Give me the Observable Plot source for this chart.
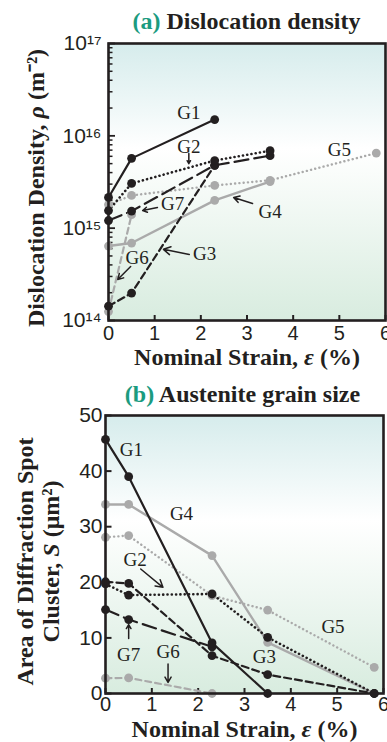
<!DOCTYPE html>
<html><head><meta charset="utf-8">
<script src="https://cdn.jsdelivr.net/npm/d3@7"></script>
<script src="https://cdn.jsdelivr.net/npm/@observablehq/plot@0.6"></script>
<style>
body{margin:0;background:#fff;}
#wrap{position:relative;width:387px;height:742px;overflow:hidden;}
.title{position:absolute;left:0;width:387px;text-align:center;font-family:"Liberation Serif",serif;font-size:24px;font-weight:bold;color:#231f20;white-space:nowrap;line-height:1;}
.title .tag{color:#1b9b7f;}
#wrap svg{position:absolute;left:0;}
</style></head><body><div id="wrap"></div><script>
// ---------- data ----------
const groups = ["G1","G2","G3","G4","G5","G6","G7"];

// Panel (a): dislocation density rho (m^-2) vs nominal strain (%)
const strainA_G1 = [0, 0.5, 2.3];
const rhoA_G1    = [2.15e15, 5.7e15, 1.5e16];
const strainA_G2 = [0, 0.5, 2.3, 3.5];
const rhoA_G2    = [1.55e15, 3.05e15, 5.4e15, 6.9e15];
const strainA_G3 = [0, 0.5, 2.3];
const rhoA_G3    = [1.43e14, 1.98e14, 4.8e15];
const strainA_G4 = [0, 0.5, 2.3, 3.5];
const rhoA_G4    = [6.4e14, 6.9e14, 2.0e15, 3.2e15];
const strainA_G5 = [0, 0.5, 2.3, 3.5, 5.8];
const rhoA_G5    = [1.8e15, 2.26e15, 2.9e15, 3.3e15, 6.5e15];
const strainA_G6 = [0, 0.5];
const rhoA_G6    = [1.25e14, 1.4e15];
const strainA_G7 = [0, 0.5, 2.3, 3.5];
const rhoA_G7    = [1.21e15, 1.53e15, 4.8e15, 6.1e15];

// Panel (b): area of diffraction spot cluster S (um^2) vs nominal strain (%)
const strainB_G1 = [0, 0.5, 2.3, 3.5];
const areaB_G1   = [45.7, 39, 9.1, 0];
const strainB_G2 = [0, 0.5, 2.3, 3.5, 5.8];
const areaB_G2   = [19.7, 17.7, 17.9, 10.1, 0];
const strainB_G3 = [0, 0.5, 2.3, 3.5, 5.8];
const areaB_G3   = [20.1, 19.8, 6.8, 3.4, 0];
const strainB_G4 = [0, 0.5, 2.3, 3.5, 5.8];
const areaB_G4   = [34, 34, 24.8, 9.2, 0];
const strainB_G5 = [0, 0.5, 2.3, 3.5, 5.8];
const areaB_G5   = [28.1, 28.4, 17.6, 15, 4.7];
const strainB_G6 = [0, 0.5, 2.3];
const areaB_G6   = [2.75, 2.8, 0];
const strainB_G7 = [0, 0.5, 2.3];
const areaB_G7   = [15.1, 13.3, 8.4];

// ticks
const xTicks = [0, 1, 2, 3, 4, 5, 6];
const yTicksA = [1e14, 1e15, 1e16, 1e17];
const yTickLabelsA = ["10¹⁴", "10¹⁵", "10¹⁶", "10¹⁷"];
const yTicksB = [0, 10, 20, 30, 40, 50];

// annotation labels (data coordinates)
const labA_text = ["G1", "G2", "G3", "G4", "G5", "G6", "G7"];
const labA_x    = [1.74, 1.74, 2.08, 3.5, 5.0, 0.62, 1.39];
const labA_y    = [1.79e16, 7.66e15, 5.2e14, 1.51e15, 7.1e15, 4.8e14, 1.85e15];
const arrA_x1 = [1.74, 1.06, 3.12, 0.48, 1.75];
const arrA_y1 = [6.44e15, 1.67e15, 1.85e15, 3.85e14, 5.2e14];
const arrA_x2 = [1.74, 0.74, 2.71, 0.2, 1.19];
const arrA_y2 = [5.0e15, 1.55e15, 2.15e15, 2.78e14, 5.9e14];

const labB_text = ["G1", "G2", "G3", "G4", "G5", "G6", "G7"];
const labB_x    = [0.56, 0.64, 3.43, 1.64, 4.91, 1.35, 0.5];
const labB_y    = [43.9, 24.1, 6.5, 32.3, 11.9, 7.4, 7.0];
const arrB_x1 = [0.76, 0.5, 1.35];
const arrB_y1 = [22.4, 9.9, 5.3];
const arrB_x2 = [1.24, 0.5, 1.35];
const arrB_y2 = [19.1, 12.4, 2.0];

// ---------- build tables ----------
const dataA = {G1:[strainA_G1,rhoA_G1],G2:[strainA_G2,rhoA_G2],G3:[strainA_G3,rhoA_G3],G4:[strainA_G4,rhoA_G4],G5:[strainA_G5,rhoA_G5],G6:[strainA_G6,rhoA_G6],G7:[strainA_G7,rhoA_G7]};
const dataB = {G1:[strainB_G1,areaB_G1],G2:[strainB_G2,areaB_G2],G3:[strainB_G3,areaB_G3],G4:[strainB_G4,areaB_G4],G5:[strainB_G5,areaB_G5],G6:[strainB_G6,areaB_G6],G7:[strainB_G7,areaB_G7]};
const toRows = (pair) => pair[0].map((x, i) => ({x, y: pair[1][i]}));

const INK = "#231f20", GRAY = "#aaaaaa";
const styles = {
  G1: {stroke: INK, strokeWidth: 2.2, strokeDasharray: null},
  G2: {stroke: INK, strokeWidth: 2.6, strokeDasharray: "0.1,4.2", strokeLinecap: "round"},
  G3: {stroke: INK, strokeWidth: 2.2, strokeDasharray: "7,4"},
  G4: {stroke: GRAY, strokeWidth: 2.4, strokeDasharray: null},
  G5: {stroke: GRAY, strokeWidth: 2.4, strokeDasharray: "0.1,4.2", strokeLinecap: "round"},
  G6: {stroke: GRAY, strokeWidth: 2.2, strokeDasharray: "6,4"},
  G7: {stroke: INK, strokeWidth: 2.2, strokeDasharray: "14,6"}
};
const drawOrder = ["G5", "G6", "G4", "G3", "G7", "G2", "G1"];

function seriesMarks(data) {
  const m = [];
  for (const g of drawOrder) {
    const rows = toRows(data[g]);
    m.push(Plot.line(rows, {x: "x", y: "y", ...styles[g]}));
  }
  for (const g of drawOrder) {
    const rows = toRows(data[g]);
    m.push(Plot.dot(rows, {x: "x", y: "y", r: 4.4, fill: styles[g].stroke, stroke: "none"}));
  }
  return m;
}

function gradient(svg, id) {
  const defs = d3.select(svg).insert("defs", ":first-child");
  const lg = defs.append("linearGradient").attr("id", id).attr("x1", 0).attr("y1", 0).attr("x2", 0).attr("y2", 1);
  lg.append("stop").attr("offset", "0").attr("stop-color", "#d6ecec");
  lg.append("stop").attr("offset", "0.38").attr("stop-color", "#ffffff");
  lg.append("stop").attr("offset", "1").attr("stop-color", "#d8ecdf");
}

function styleMath(svg) {
  const NS = "http://www.w3.org/2000/svg";
  d3.select(svg).selectAll("text, tspan").each(function () {
    if (this.childElementCount) return;
    const s = this.textContent;
    const parts = s.split(/(ε|ρ|(?<=, )S(?= \())/);
    if (parts.length < 2) return;
    this.textContent = "";
    for (const p of parts) {
      if (!p) continue;
      const t = document.createElementNS(NS, "tspan");
      t.textContent = p;
      if (/^(ε|ρ|S)$/.test(p)) t.setAttribute("font-style", "italic");
      this.appendChild(t);
    }
  });
}

const serif = "Liberation Serif, Times New Roman, serif";
const sans = "Liberation Sans, Arial, sans-serif";
const labelStyle = {fontFamily: serif, fontSize: 19, fill: INK};
const axisTitle = {fontFamily: serif, fontWeight: "bold", fontSize: 24, fill: INK, textAnchor: "middle", lineAnchor: "middle"};

// ---------- panel (a) ----------
const minorA = [];
for (const e of [14, 15, 16]) for (let k = 2; k <= 9; k++) minorA.push(k * Math.pow(10, e));

const svgA = Plot.plot({
  width: 387, height: 365,
  marginLeft: 108, marginRight: 2, marginTop: 43, marginBottom: 45,
  style: {background: "transparent", overflow: "visible", color: INK},
  x: {domain: [0, 6]},
  y: {type: "log", domain: [1e14, 1e17]},
  marks: [
    Plot.frame({fill: "url(#gradA)", stroke: "none"}),
    Plot.axisY(minorA, {tickSize: 4.5, insetLeft: 4.5, fill: "none", stroke: INK, strokeWidth: 1.5}),
    Plot.axisY(yTicksA, {tickSize: 7, insetLeft: 7, fill: "none", stroke: INK, strokeWidth: 1.8}),
    Plot.axisX(xTicks, {tickSize: 5, insetBottom: 5, fill: "none", stroke: INK, strokeWidth: 2}),
    Plot.axisY(yTicksA, {tickSize: 0, tickPadding: 7, tickFormat: (d) => yTickLabelsA[yTicksA.indexOf(d)], fontSize: 21, fontFamily: sans, label: null}),
    Plot.axisX(xTicks, {tickSize: 0, tickPadding: 5, fontSize: 20, fontFamily: sans, label: null}),
    ...seriesMarks(dataA),
    Plot.text(labA_text, {x: (d, i) => labA_x[i], y: (d, i) => labA_y[i], text: d => d, ...labelStyle}),
    Plot.arrow(arrA_x1, {x1: (d, i) => arrA_x1[i], y1: (d, i) => arrA_y1[i], x2: (d, i) => arrA_x2[i], y2: (d, i) => arrA_y2[i], stroke: INK, strokeWidth: 1.5, headLength: 8}),
    Plot.frame({stroke: INK, strokeWidth: 2.6}),
    Plot.text(["Nominal Strain, ε (%)"], {frameAnchor: "bottom", dy: 37, text: d => d, ...axisTitle}),
    Plot.text(["Dislocation Density, ρ (m⁻²)"], {frameAnchor: "left", rotate: -90, dx: -72, dy: 6, text: d => d, ...axisTitle})
  ]
});
gradient(svgA, "gradA");
styleMath(svgA);
svgA.style.top = "0px";

// ---------- panel (b) ----------
const svgB = Plot.plot({
  width: 387, height: 372,
  marginLeft: 105, marginRight: 4, marginTop: 45, marginBottom: 49,
  style: {background: "transparent", overflow: "visible", color: INK},
  x: {domain: [0, 6]},
  y: {domain: [0, 50]},
  marks: [
    Plot.frame({fill: "url(#gradB)", stroke: "none"}),
    Plot.axisY(yTicksB, {tickSize: 6.5, insetLeft: 6.5, fill: "none", stroke: INK, strokeWidth: 2}),
    Plot.axisX(xTicks, {tickSize: 5, insetBottom: 5, fill: "none", stroke: INK, strokeWidth: 2}),
    Plot.axisY(yTicksB, {tickSize: 0, tickPadding: 3, fontSize: 21, fontFamily: sans, label: null}),
    Plot.axisX(xTicks, {tickSize: 0, tickPadding: 3, fontSize: 20, fontFamily: sans, label: null}),
    ...seriesMarks(dataB),
    Plot.text(labB_text, {x: (d, i) => labB_x[i], y: (d, i) => labB_y[i], text: d => d, ...labelStyle}),
    Plot.arrow(arrB_x1, {x1: (d, i) => arrB_x1[i], y1: (d, i) => arrB_y1[i], x2: (d, i) => arrB_x2[i], y2: (d, i) => arrB_y2[i], stroke: INK, strokeWidth: 1.5, headLength: 8}),
    Plot.frame({stroke: INK, strokeWidth: 2.6}),
    Plot.text(["Nominal Strain, ε (%)"], {frameAnchor: "bottom", dy: 35.5, text: d => d, ...axisTitle}),
    Plot.text(["Area of Diffraction Spot\nCluster, S (μm²)"], {frameAnchor: "left", rotate: -90, dx: -68, dy: 7, lineHeight: 1.08, text: d => d, ...axisTitle})
  ]
});
gradient(svgB, "gradB");
styleMath(svgB);
svgB.style.top = "370px";

const wrap = document.getElementById("wrap");
wrap.appendChild(svgA);
wrap.appendChild(svgB);

const tA = document.createElement("div");
tA.className = "title";
tA.style.top = "9px"; tA.style.left = "53px";
tA.innerHTML = '<span class="tag">(a)</span> Dislocation density';
wrap.appendChild(tA);
const tB = document.createElement("div");
tB.className = "title";
tB.style.top = "382px"; tB.style.left = "49px";
tB.innerHTML = '<span class="tag">(b)</span> Austenite grain size';
wrap.appendChild(tB);
</script></body></html>
